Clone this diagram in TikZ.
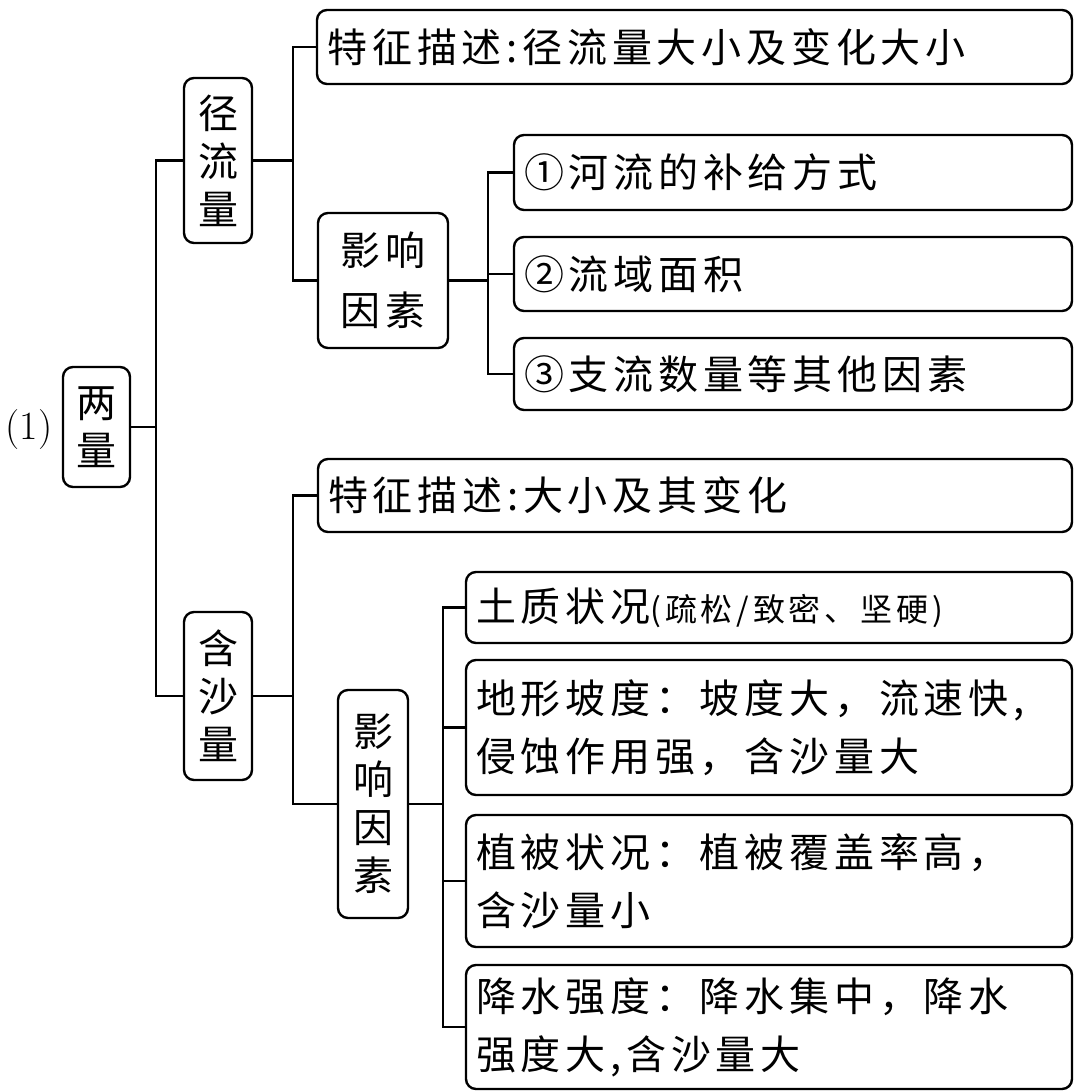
\documentclass[tikz,border=0pt]{standalone}
\usepackage{fontspec}
\newfontfamily\cjk[LetterSpace=12]{Noto Sans CJK SC}
\begin{document}
\begin{tikzpicture}[x=0.5pt,y=-0.5pt,
  box/.style={draw,line width=1.2pt,rounded corners=5pt,font=\cjk\fontsize{20}{29}\selectfont,inner xsep=5pt,inner ysep=2pt},
  vb/.style={box,align=center,font=\cjk\fontsize{20}{24}\selectfont},
  lb/.style={box,align=left},
  ln/.style={line width=1.2pt}]
\useasboundingbox (0,0) rectangle (1080,1091);
\node[font=\fontsize{20}{24}\selectfont] (lab) at (29,430) {(1)};
\node[vb,minimum width=33.5pt,minimum height=60pt] (lq) at (96.5,427) {两\\量};
\node[vb,minimum width=34pt,minimum height=82.5pt] (jl) at (218,160.5) {径\\流\\量};
\node[vb,minimum width=34pt,minimum height=84pt] (hs) at (218,696) {含\\沙\\量};
\node[lb,minimum width=377.5pt,text width=367pt,minimum height=37pt] (b1) at (694.5,47) {特征描述:径流量大小及变化大小};
\node[vb,minimum width=65pt,minimum height=67.5pt,font=\cjk\fontsize{20}{30}\selectfont] (y1) at (383,280.5) {影响\\因素};
\node[lb,minimum width=279pt,text width=269pt,minimum height=37.5pt] (i1) at (793,172.5) {①河流的补给方式};
\node[lb,minimum width=279pt,text width=269pt,minimum height=37pt] (i2) at (793,274) {②流域面积};
\node[lb,minimum width=279pt,text width=269pt,minimum height=36pt] (i3) at (793,374) {③支流数量等其他因素};
\node[lb,minimum width=377pt,text width=367pt,minimum height=36.5pt] (b2) at (695,495.5) {特征描述:大小及其变化};
\node[vb,minimum width=35pt,minimum height=114pt] (y2) at (373,804) {影\\响\\因\\素};
\node[lb,minimum width=303pt,text width=293pt,minimum height=35.5pt] (s1) at (769,607.5) {土质状况{\fontsize{16}{20}\selectfont (疏松/致密、坚硬)}};
\node[lb,minimum width=303pt,text width=293pt,minimum height=67.5pt] (s2) at (769,727.5) {地形坡度：坡度大，流速快,\\侵蚀作用强，含沙量大};
\node[lb,minimum width=303pt,text width=293pt,minimum height=66pt] (s3) at (769,881) {植被状况：植被覆盖率高，\\含沙量小};
\node[lb,minimum width=303pt,text width=293pt,minimum height=62pt] (s4) at (769,1027) {降水强度：降水集中，降水\\强度大,含沙量大};
\draw[ln] (lq.east) -- ++(25,0) |- (jl.west);
\draw[ln] (lq.east) -- ++(25,0) |- (hs.west);
\draw[ln] (jl.east) -- ++(40,0) |- (b1.west);
\draw[ln] (jl.east) -- ++(40,0) |- (y1.west);
\foreach \t in {i1,i2,i3} \draw[ln] (y1.east) -- ++(39,0) |- (\t.west);
\draw[ln] (hs.east) -- ++(40,0) |- (b2.west);
\draw[ln] (hs.east) -- ++(40,0) |- (y2.west);
\foreach \t in {s1,s2,s3,s4} \draw[ln] (y2.east) -- ++(34,0) |- (\t.west);
\end{tikzpicture}
\end{document}
